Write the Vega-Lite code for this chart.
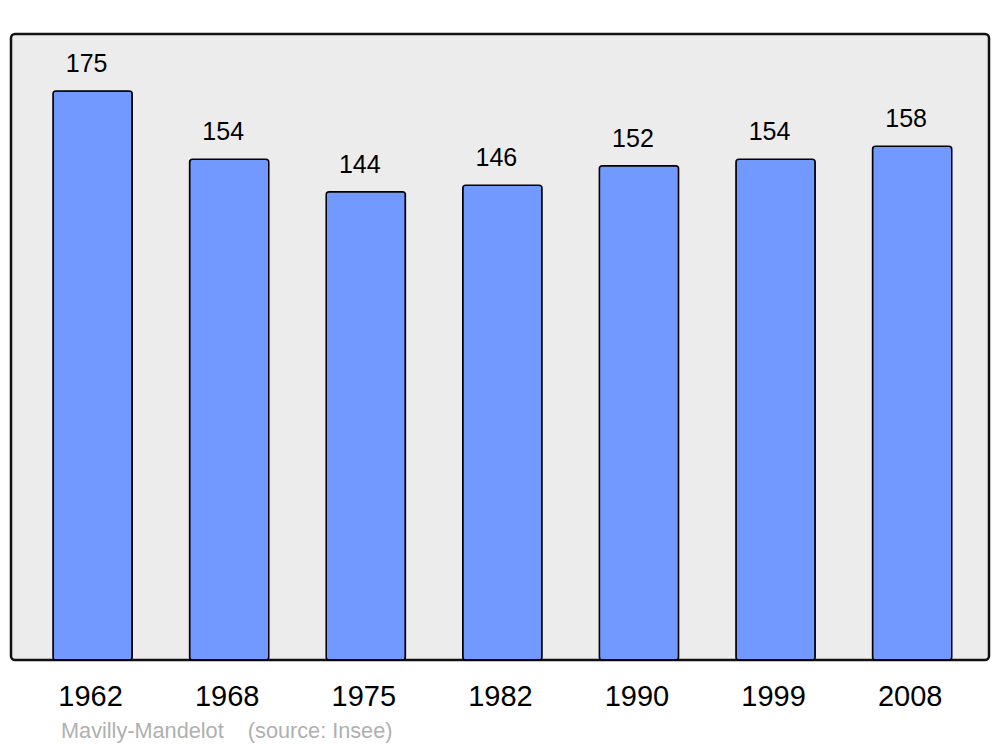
{
  "$schema": "https://vega.github.io/schema/vega-lite/v6.json",
  "width": 978,
  "height": 626,
  "autosize": {"type": "none"},
  "padding": {"left": 11, "top": 34, "right": 11, "bottom": 87},
  "background": "#ffffff",
  "config": {
    "font": "Liberation Sans",
    "view": {"fill": "#ececec", "stroke": "#111111", "strokeWidth": 2.5, "cornerRadius": 4}
  },
  "data": {
    "values": [
      {"year": "1962", "pop": 175},
      {"year": "1968", "pop": 154},
      {"year": "1975", "pop": 144},
      {"year": "1982", "pop": 146},
      {"year": "1990", "pop": 152},
      {"year": "1999", "pop": 154},
      {"year": "2008", "pop": 158}
    ]
  },
  "title": {
    "text": "Mavilly-Mandelot\u00a0\u00a0\u00a0\u00a0(source: Insee)",
    "orient": "bottom",
    "anchor": "start",
    "dx": 50,
    "offset": 10,
    "fontSize": 21.7,
    "fontWeight": "normal",
    "color": "#b0b0b0",
    "font": "Liberation Sans"
  },
  "encoding": {
    "x": {
      "field": "year",
      "type": "ordinal",
      "sort": null,
      "scale": {"paddingInner": 0.42, "paddingOuter": 0.29, "align": 0.53},
      "axis": {
        "title": null,
        "ticks": false,
        "domain": false,
        "labelAngle": 0,
        "labelFontSize": 29,
        "labelColor": "#000000",
        "labelBaseline": "alphabetic",
        "labelPadding": 45,
        "labelOffset": -2,
        "labelFont": "Liberation Sans"
      }
    },
    "y": {
      "field": "pop",
      "type": "quantitative",
      "scale": {"domain": [0, 192.5], "nice": false},
      "axis": null
    }
  },
  "layer": [
    {
      "mark": {"type": "bar", "fill": "#7299ff", "stroke": "#000000", "strokeWidth": 1.5, "cornerRadius": 3}
    },
    {
      "mark": {"type": "text", "baseline": "alphabetic", "dy": -19, "dx": -6, "fontSize": 25, "color": "#000000", "font": "Liberation Sans"},
      "encoding": {"text": {"field": "pop", "type": "quantitative"}}
    }
  ]
}
